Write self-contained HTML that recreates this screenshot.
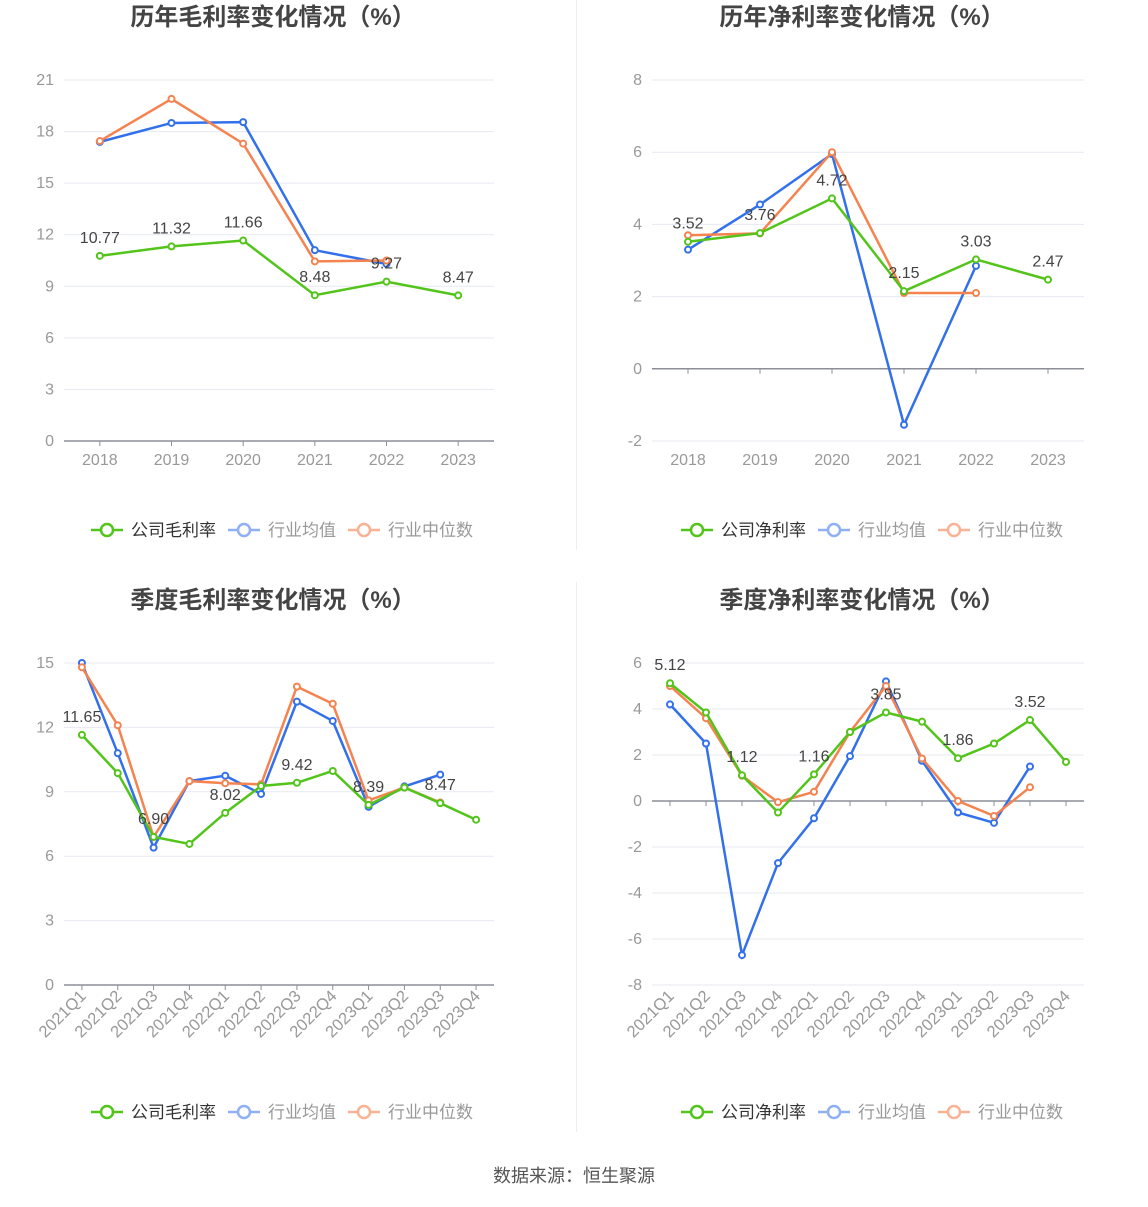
<!DOCTYPE html>
<html><head><meta charset="utf-8">
<style>
html,body{margin:0;padding:0;background:#fff;}
body{width:1148px;height:1202px;overflow:hidden;font-family:"Liberation Sans","Noto Sans CJK SC",sans-serif;}
svg text{font-family:"Liberation Sans","Noto Sans CJK SC",sans-serif;}
</style></head>
<body>
<svg id="root" width="1148" height="1202" xmlns="http://www.w3.org/2000/svg">
<line x1="576.5" y1="0" x2="576.5" y2="550" stroke="#eeeeee"/>
<line x1="576.5" y1="582" x2="576.5" y2="1132" stroke="#eeeeee"/>
<text x="574" y="1182" text-anchor="middle" font-size="18" fill="#555">数据来源：恒生聚源</text>
</svg>
<script>
const yearCats = ["2018","2019","2020","2021","2022","2023"];
const quarterCats = ["2021Q1","2021Q2","2021Q3","2021Q4","2022Q1","2022Q2","2022Q3","2022Q4","2023Q1","2023Q2","2023Q3","2023Q4"];

const grossYearCompany = [10.77,11.32,11.66,8.48,9.27,8.47];
const grossYearAvg = [17.4,18.5,18.55,11.1,10.3,null];
const grossYearMedian = [17.45,19.9,17.3,10.45,10.5,null];
const grossYearTicks = [0,3,6,9,12,15,18,21];

const netYearCompany = [3.52,3.76,4.72,2.15,3.03,2.47];
const netYearAvg = [3.3,4.55,5.95,-1.55,2.85,null];
const netYearMedian = [3.7,3.75,6.0,2.1,2.1,null];
const netYearTicks = [-2,0,2,4,6,8];

const grossQCompany = [11.65,9.87,6.90,6.57,8.02,9.27,9.42,9.97,8.39,9.2,8.47,7.7];
const grossQAvg = [15.0,10.8,6.4,9.5,9.75,8.9,13.2,12.3,8.3,9.25,9.8,null];
const grossQMedian = [14.8,12.1,6.9,9.5,9.4,9.35,13.9,13.1,8.6,9.2,8.5,null];
const grossQTicks = [0,3,6,9,12,15];

const netQCompany = [5.12,3.85,1.12,-0.5,1.16,3.0,3.85,3.45,1.86,2.5,3.52,1.7];
const netQAvg = [4.2,2.5,-6.7,-2.7,-0.75,1.95,5.2,1.75,-0.5,-0.95,1.5,null];
const netQMedian = [5.0,3.6,1.1,-0.05,0.4,3.0,5.0,1.85,0.0,-0.65,0.6,null];
const netQTicks = [-8,-6,-4,-2,0,2,4,6];

const NS = "http://www.w3.org/2000/svg";
const root = document.getElementById("root");
function mk(tag, attrs, parent){
  const e = document.createElementNS(NS, tag);
  for (const k in attrs) e.setAttribute(k, attrs[k]);
  (parent||root).appendChild(e);
  return e;
}
const GREEN="#52c41a", BLUE="#3370eb", ORANGE="#f5834f";

function chart(o){
  const g = mk("g", {});
  
  
  const t = mk("text", {x:o.cx, y:o.titleY, "text-anchor":"middle", "font-size":"24", "font-weight":"bold", fill:"#444"}, g);
  t.textContent = o.title;
  
  
  const lo=o.ticks[0], hi=o.ticks[o.ticks.length-1];
  const y = v => o.yBot - (v-lo)/(hi-lo)*(o.yBot-o.yTop);
  const band = (o.x1-o.x0)/o.cats.length;
  const x = i => o.x0 + band*(i+0.5);
  o.ticks.forEach(v=>{
    const l = mk("line", {x1:o.x0, x2:o.x1, y1:y(v), y2:y(v), stroke:"#e6e9f2", "stroke-width":1}, g);
    
    
    const tx = mk("text", {x:o.x0-10, y:y(v)+5, "text-anchor":"end", "font-size":"16", fill:"#999"}, g);
    tx.textContent = v;
    
    
  });
  const ax = mk("line", {x1:o.x0, x2:o.x1, y1:y(0), y2:y(0), stroke:"#8c8f99", "stroke-width":1.5}, g);
  
  
  o.cats.forEach((c,i)=>{
    const tk = mk("line", {x1:x(i), x2:x(i), y1:y(0), y2:y(0)+5, stroke:"#8c8f99"}, g);
    
    
    let tx;
    if (o.rot){
      const ly = o.yBot+12;
      tx = mk("text", {x:x(i)+5, y:ly, "text-anchor":"end", "font-size":"16.5", fill:"#999", transform:`rotate(-45 ${x(i)+5} ${ly})`}, g);
    } else {
      tx = mk("text", {x:x(i), y:o.yBot+24, "text-anchor":"middle", "font-size":"16", fill:"#999"}, g);
    }
    tx.textContent = c;
    
    
  });
  const series = [[o.avg,BLUE,"industry-average-line"],[o.med,ORANGE,"industry-median-line"],[o.comp,GREEN,"company-line"]];
  series.forEach(([d,col,nm])=>{
    const pts = d.map((v,i)=>v==null?null:[x(i),y(v)]).filter(p=>p);
    const pl = mk("polyline", {points:pts.map(p=>p.join(",")).join(" "), fill:"none", stroke:col, "stroke-width":2.5}, g);
    
    
    pts.forEach(p=>{
      const c = mk("circle", {cx:p[0], cy:p[1], r:3, fill:"#fff", stroke:col, "stroke-width":2}, g);
      
      
    });
  });
  o.comp.forEach((v,i)=>{
    if (i % o.labelEvery) return;
    const tx = mk("text", {x:x(i), y:y(v)-13, "text-anchor":"middle", "font-size":"16", fill:"#444"}, g);
    tx.textContent = v.toFixed(2);
    
    
  });
  const items = [[o.legend0,GREEN,"#333"],["行业均值","#8fb0f5","#999"],["行业中位数","#f9b293","#999"]];
  let lx = o.legX;
  const widths=[137,120,120];
  items.forEach(([lab,col,tc],k)=>{
    const lg = mk("g", {}, g);
    
    
    mk("line", {x1:lx, x2:lx+32, y1:o.legY, y2:o.legY, stroke:col, "stroke-width":2.5}, lg);
    mk("circle", {cx:lx+16, cy:o.legY, r:6, fill:"#fff", stroke:col, "stroke-width":2.5}, lg);
    const tx = mk("text", {x:lx+40, y:o.legY+6, "font-size":"17", fill:tc}, lg);
    tx.textContent = lab;
    lx += widths[k];
  });
}

chart({name:"annual-gross-margin-chart", title:"历年毛利率变化情况（%）", cx:273, titleY:25, x0:64, x1:494, yTop:80, yBot:441, ticks:grossYearTicks, cats:yearCats, comp:grossYearCompany, avg:grossYearAvg, med:grossYearMedian, labelEvery:1, rot:false, legend0:"公司毛利率", legX:91, legY:530});
chart({name:"annual-net-margin-chart", title:"历年净利率变化情况（%）", cx:862, titleY:25, x0:652, x1:1084, yTop:80, yBot:441, ticks:netYearTicks, cats:yearCats, comp:netYearCompany, avg:netYearAvg, med:netYearMedian, labelEvery:1, rot:false, legend0:"公司净利率", legX:681, legY:530});
chart({name:"quarterly-gross-margin-chart", title:"季度毛利率变化情况（%）", cx:273, titleY:608, x0:64, x1:494, yTop:663, yBot:985, ticks:grossQTicks, cats:quarterCats, comp:grossQCompany, avg:grossQAvg, med:grossQMedian, labelEvery:2, rot:true, legend0:"公司毛利率", legX:91, legY:1112});
chart({name:"quarterly-net-margin-chart", title:"季度净利率变化情况（%）", cx:862, titleY:608, x0:652, x1:1084, yTop:663, yBot:985, ticks:netQTicks, cats:quarterCats, comp:netQCompany, avg:netQAvg, med:netQMedian, labelEvery:2, rot:true, legend0:"公司净利率", legX:681, legY:1112});
</script>
</body></html>
